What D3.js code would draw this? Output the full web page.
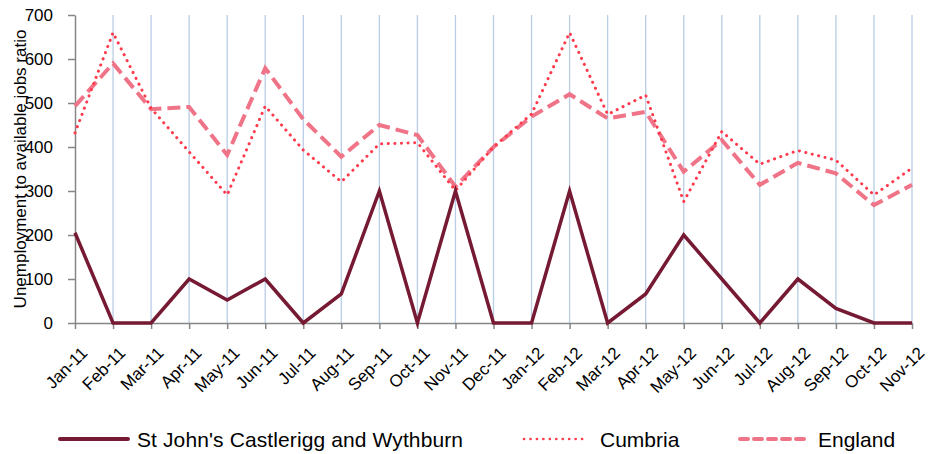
<!DOCTYPE html>
<html><head><meta charset="utf-8">
<script src="https://cdn.jsdelivr.net/npm/d3@7"></script>
<style>body{margin:0;background:#fff}svg{display:block}text{font-family:"Liberation Sans",Arial,sans-serif}</style>
</head><body><svg id="c" width="932" height="454"></svg>
<script>
const categories = ["Jan-11","Feb-11","Mar-11","Apr-11","May-11","Jun-11","Jul-11","Aug-11","Sep-11","Oct-11","Nov-11","Dec-11","Jan-12","Feb-12","Mar-12","Apr-12","May-12","Jun-12","Jul-12","Aug-12","Sep-12","Oct-12","Nov-12"];
const localValues = [205,0,0,100,52,100,0,66,300,0,300,0,0,300,0,66,200,100,0,100,33,0,0];
const cumbriaValues = [432,660,488,389,291,493,393,321,407,410,301,400,475,660,474,518,276,435,361,392,370,291,352];
const englandValues = [493,590,486,491,382,579,463,378,450,427,310,400,469,520,465,480,344,416,314,364,340,268,314];
const yTicks = [0,100,200,300,400,500,600,700];
const seriesNames = ["St John's Castlerigg and Wythburn","Cumbria","England"];

const svg = d3.select("#c");
const x = d3.scalePoint().domain(categories).range([75, 912]);
const y = d3.scaleLinear().domain([0,700]).range([323, 15]);
const FONT = '"Liberation Sans",Arial,sans-serif';

// gridlines
svg.append("g").selectAll("line").data(categories.slice(1)).join("line")
  .attr("x1", d=>x(d)).attr("x2", d=>x(d)).attr("y1", y(700)).attr("y2", y(0))
  .attr("stroke", "#b9cde5").attr("stroke-width", 1.3);

// axes
const yAxis = svg.append("g").attr("transform", `translate(75,0)`)
  .call(d3.axisLeft(y).tickValues(yTicks).tickSize(7).tickPadding(15).tickSizeOuter(0));
yAxis.select(".domain").attr("stroke", "#868686").attr("stroke-width", 1.5);
yAxis.selectAll(".tick line").attr("stroke", "#868686").attr("stroke-width", 1.5);
yAxis.selectAll("text").attr("font-size", 17).attr("fill", "#000").attr("font-family", FONT);

const xAxis = svg.append("g").attr("transform", `translate(0,${y(0)})`)
  .call(d3.axisBottom(x).tickSize(6).tickSizeOuter(0));
xAxis.select(".domain").attr("stroke", "#868686").attr("stroke-width", 1.5);
xAxis.selectAll(".tick line").attr("stroke", "#868686").attr("stroke-width", 1.5);
xAxis.selectAll("text").attr("font-size", 17).attr("fill", "#000")
  .attr("font-family", FONT)
  .attr("text-anchor", "end").attr("dy", 0).attr("y", 0)
  .attr("transform", "translate(13,31) rotate(-45)");

// y title
svg.append("text").attr("transform", `translate(26,${(y(0)+y(700))/2}) rotate(-90)`)
  .attr("text-anchor", "middle").attr("font-size", 17).text("Unemployment to available jobs ratio");

const line = d3.line().x((d,i)=>x(categories[i])).y(d=>y(d));
svg.append("path").datum(englandValues).attr("d", line).attr("fill","none")
  .attr("stroke","#f07488").attr("stroke-width",4).attr("stroke-dasharray","13,6");
svg.append("path").datum(cumbriaValues).attr("d", line).attr("fill","none")
  .attr("stroke","#ff3a4c").attr("stroke-width",3).attr("stroke-linecap","round").attr("stroke-dasharray","0.1,6.5");
svg.append("path").datum(localValues).attr("d", line).attr("fill","none")
  .attr("stroke","#761a33").attr("stroke-width",3.5).attr("stroke-linejoin","miter");

// legend
const lg = svg.append("g");
const ly = 439;
lg.append("line").attr("x1",60).attr("x2",128).attr("y1",ly).attr("y2",ly).attr("stroke","#761a33").attr("stroke-width",4).attr("stroke-linecap","round");
lg.append("text").attr("x",137).attr("y",ly+8).attr("font-size",21).attr("textLength",326).text(seriesNames[0]);
lg.append("line").attr("x1",524).attr("x2",588).attr("y1",ly).attr("y2",ly).attr("stroke","#ff3a4c").attr("stroke-width",2.6).attr("stroke-linecap","round").attr("stroke-dasharray","0.1,6.35");
lg.append("text").attr("x",600).attr("y",ly+8).attr("font-size",21).text(seriesNames[1]);
lg.append("line").attr("x1",740).attr("x2",808).attr("y1",ly).attr("y2",ly).attr("stroke","#f07488").attr("stroke-width",4).attr("stroke-linecap","round").attr("stroke-dasharray","8,6");
lg.append("text").attr("x",818).attr("y",ly+8).attr("font-size",21).text(seriesNames[2]);
</script></body></html>
